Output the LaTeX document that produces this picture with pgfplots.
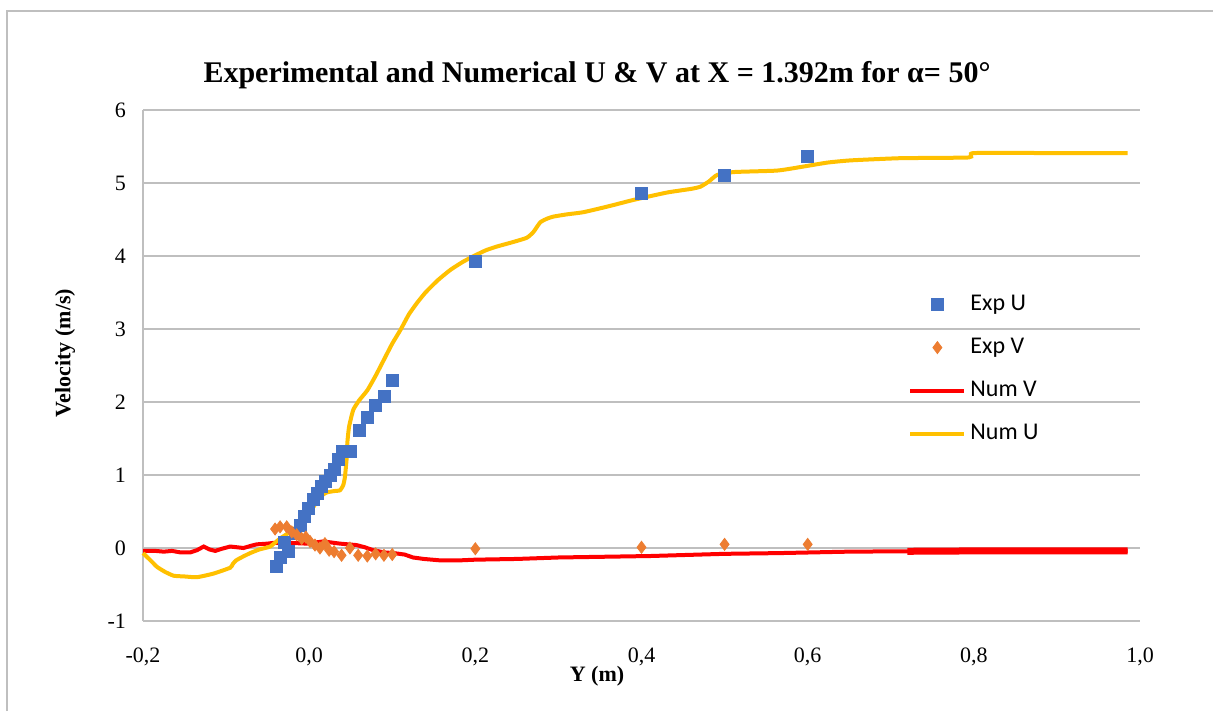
\documentclass[border=0pt]{standalone}
\usepackage{fontspec}
\setmainfont{Liberation Serif}
\newfontfamily\carlito{Carlito}
\usepackage{pgfplots}
\pgfplotsset{compat=1.18}
\definecolor{expU}{HTML}{4472C4}
\definecolor{expV}{HTML}{ED7D31}
\definecolor{numU}{HTML}{FFC000}
\definecolor{numV}{HTML}{FF0000}
\definecolor{gridc}{HTML}{BFBFBF}
\pgfplotsset{
  marklegend/.style={legend image code/.code={\draw[mark repeat=2,mark phase=2,##1] plot coordinates {(0pt,0pt)(13.5pt,0pt)(27pt,0pt)};}},
  linelegend/.style={legend image code/.code={\draw[##1] (0pt,0pt) -- (27pt,0pt);}},
}
\begin{document}
\begin{tikzpicture}
\useasboundingbox (0,0) rectangle (606.5pt,355.5pt);
\fill[white] (0,0) rectangle (606.5pt,355.5pt);
\draw[gridc, line width=0.8pt] (3.5pt,0) -- (3.5pt,350pt) -- (607pt,350pt);
\begin{axis}[
  at={(71.5pt,45pt)}, anchor=south west,
  scale only axis, width=498.5pt, height=255.5pt,
  xmin=-0.2, xmax=1.0, ymin=-1, ymax=6,
  xtick={-0.2,0,0.2,0.4,0.6,0.8,1.0},
  ytick={-1,0,1,2,3,4,5,6},
  xticklabel style={/pgf/number format/fixed,/pgf/number format/fixed zerofill,/pgf/number format/precision=1,/pgf/number format/use comma,/pgf/number format/assume math mode=true, yshift=-10pt},
  yticklabel style={/pgf/number format/assume math mode=true, xshift=-5pt},
  tick label style={font=\fontsize{11}{13}\selectfont},
  major tick length=0pt,
  axis x line*=bottom, axis y line*=left,
  axis line style={gridc, line width=0.9pt, -},
  ymajorgrids, grid style={gridc, line width=0.9pt},
  clip=false,
  legend style={at={(0.7673,0.6458)}, anchor=north west, draw=none, fill=none,
    font=\carlito\fontsize{12}{14}\selectfont, inner sep=0pt, row sep=8.3pt},
  legend cell align=left,
]
\addplot[only marks, mark=square*, color=expU, mark size=3pt, marklegend] coordinates {
(-0.040,-0.25) (-0.035,-0.13) (-0.030,0.07) (-0.025,-0.04) (-0.016,0.20)
(-0.011,0.31) (-0.006,0.43) (-0.001,0.54) (0.005,0.66) (0.010,0.75)
(0.015,0.85) (0.020,0.91) (0.025,1.00) (0.030,1.07) (0.035,1.21)
(0.040,1.32) (0.050,1.32) (0.060,1.61) (0.070,1.79) (0.080,1.95)
(0.090,2.07) (0.100,2.29) (0.2,3.92) (0.4,4.86) (0.5,5.11) (0.6,5.36)
};
\addlegendentry{Exp U}
\addplot[only marks, mark=diamond*, color=expV, mark size=3pt, marklegend] coordinates {
(-0.041,0.26) (-0.035,0.29) (-0.027,0.29) (-0.021,0.22) (-0.015,0.18)
(-0.009,0.13) (-0.004,0.15) (0.001,0.09) (0.007,0.04) (0.013,0.00)
(0.019,0.06) (0.024,-0.03) (0.030,-0.05) (0.039,-0.10) (0.049,0.00)
(0.059,-0.10) (0.070,-0.11) (0.080,-0.08) (0.090,-0.10) (0.100,-0.09)
(0.2,-0.01) (0.4,0.01) (0.5,0.05) (0.6,0.05)
};
\addlegendentry{Exp V}
\addplot[color=numV, line width=2pt, linelegend] coordinates {
(-0.2,-0.04) (-0.185,-0.04) (-0.175,-0.05) (-0.165,-0.04) (-0.155,-0.06)
(-0.143,-0.06) (-0.135,-0.03) (-0.127,0.02) (-0.12,-0.02) (-0.113,-0.04)
(-0.105,-0.01) (-0.095,0.02) (-0.087,0.01) (-0.079,0.00) (-0.07,0.03)
(-0.063,0.05) (-0.05,0.06) (-0.043,0.07) (-0.023,0.07) (-0.003,0.06)
(0.017,0.09) (0.037,0.06) (0.057,0.04) (0.067,0.01) (0.077,-0.03)
(0.09,-0.06) (0.102,-0.07) (0.115,-0.09) (0.125,-0.13) (0.138,-0.15)
(0.158,-0.17) (0.18,-0.17) (0.2,-0.16) (0.25,-0.15) (0.3,-0.13)
(0.41,-0.11) (0.5,-0.08) (0.565,-0.07) (0.65,-0.05) (0.72,-0.045)
(0.8,-0.04) (0.9,-0.04) (0.985,-0.04)
};
\addlegendentry{Num V}
\addplot[color=numU, line width=2pt, linelegend, smooth, tension=0.3] coordinates {
(-0.2,-0.07) (-0.19,-0.18) (-0.183,-0.26) (-0.173,-0.33) (-0.163,-0.38)
(-0.15,-0.39) (-0.135,-0.40) (-0.115,-0.35) (-0.095,-0.27) (-0.092,-0.22)
(-0.088,-0.17) (-0.08,-0.12) (-0.071,-0.07) (-0.06,-0.02) (-0.047,0.02)
(-0.035,0.13) (-0.023,0.22) (-0.012,0.32) (-0.003,0.43) (0.005,0.56)
(0.013,0.70) (0.021,0.76) (0.030,0.78) (0.037,0.79) (0.041,0.86)
(0.043,0.97) (0.045,1.21) (0.046,1.45) (0.048,1.66) (0.053,1.89)
(0.06,2.02) (0.070,2.16) (0.080,2.36) (0.090,2.58) (0.10,2.80)
(0.11,2.99) (0.12,3.20) (0.13,3.36) (0.14,3.50) (0.155,3.67)
(0.17,3.81) (0.185,3.92) (0.2,4.01) (0.213,4.08) (0.226,4.13)
(0.245,4.19) (0.262,4.25) (0.27,4.33) (0.278,4.46) (0.286,4.51)
(0.294,4.54) (0.31,4.57) (0.33,4.60) (0.36,4.68) (0.391,4.77)
(0.431,4.87) (0.46,4.92) (0.471,4.95) (0.481,5.02) (0.491,5.11)
(0.511,5.15) (0.563,5.17) (0.592,5.22) (0.624,5.28) (0.652,5.31)
(0.712,5.34) (0.794,5.35) (0.80,5.41) (0.90,5.41) (0.985,5.41)
};
\addlegendentry{Num U}
\addplot[color=numV, line width=3.5pt, forget plot] coordinates {
(0.72,-0.045) (0.8,-0.04) (0.9,-0.04) (0.985,-0.04)
};
\end{axis}
\node[font=\bfseries\fontsize{15}{17}\selectfont] at (298.5pt,318pt) {Experimental and Numerical U \& V at X = 1.392m for α= 50°};
\node[font=\bfseries\fontsize{11}{13}\selectfont, rotate=90] at (32.5pt,179pt) {Velocity (m/s)};
\node[font=\bfseries\fontsize{11}{13}\selectfont] at (298.5pt,17.5pt) {Y (m)};
\end{tikzpicture}
\end{document}
